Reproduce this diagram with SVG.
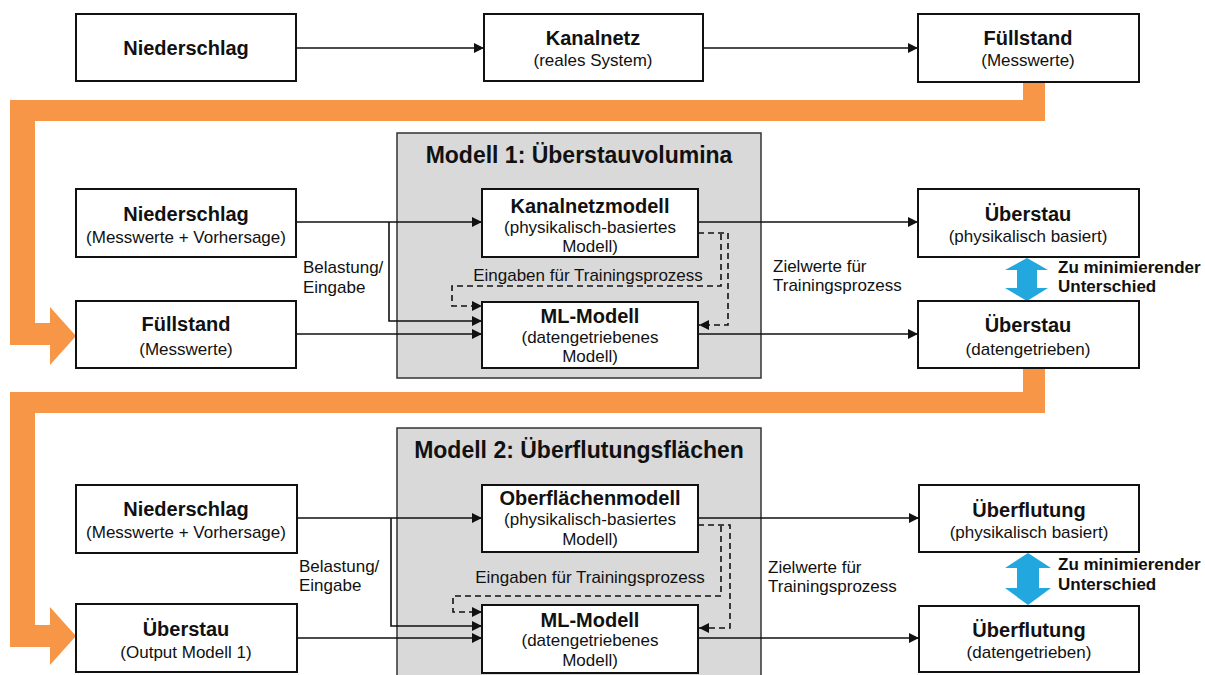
<svg xmlns="http://www.w3.org/2000/svg" width="1205" height="675" viewBox="0 0 1205 675">
<defs>
<style>
.box{fill:#fff;stroke:#111;stroke-width:2}
.grp{fill:#d9d9d9;stroke:#333;stroke-width:1.5}
.t{font-family:"Liberation Sans",Arial,sans-serif;font-weight:bold;font-size:20px;fill:#111;text-anchor:middle}
.s{font-family:"Liberation Sans",Arial,sans-serif;font-size:17px;fill:#111;text-anchor:middle}
.g{font-family:"Liberation Sans",Arial,sans-serif;font-weight:bold;font-size:23px;fill:#111;text-anchor:middle}
.l{font-family:"Liberation Sans",Arial,sans-serif;font-size:17px;fill:#111}
.lb{font-family:"Liberation Sans",Arial,sans-serif;font-size:17px;font-weight:bold;fill:#111}
.c{fill:none;stroke:#111;stroke-width:1.6}
.d{fill:none;stroke:#111;stroke-width:1.6;stroke-dasharray:6 4}
.band{fill:#f79646}
.blue{fill:#23a7df}
</style>
<marker id="ah" markerUnits="userSpaceOnUse" markerWidth="11" markerHeight="10" refX="10" refY="5" orient="auto">
<path d="M0,0 L10,5 L0,10 z" fill="#111"/>
</marker>
</defs>

<!-- orange bands -->
<g id="band1">
<path class="band" d="M1023,82 H1045 V121 H35 V323 H50 V307 L76,336 L50,365 V345 H10 V100 H1023 Z"/>
</g>
<g id="band2">
<path class="band" d="M1023,368 H1045 V413 H35 V625 H50 V607 L76,636 L50,665 V647 H10 V392 H1023 Z"/>
</g>

<!-- group boxes -->
<g id="modell1">
<rect class="grp" x="397" y="133" width="364" height="245"/>
<text class="g" x="579" y="163">Modell 1: Überstauvolumina</text>
</g>
<g id="modell2">
<rect class="grp" x="397" y="428" width="364" height="260"/>
<text class="g" x="579" y="458">Modell 2: Überflutungsflächen</text>
</g>

<!-- connectors -->
<g id="connectors">
<path class="c" d="M296,48 H484" marker-end="url(#ah)"/>
<path class="c" d="M703,48 H918" marker-end="url(#ah)"/>

<path class="c" d="M296,222 H482" marker-end="url(#ah)"/>
<path class="c" d="M389,222 V321 H482" marker-end="url(#ah)"/>
<path class="c" d="M296,334 H482" marker-end="url(#ah)"/>
<path class="c" d="M698,222 H918" marker-end="url(#ah)"/>
<path class="c" d="M698,334 H918" marker-end="url(#ah)"/>
<path class="d" d="M698,233 H728 V325 H699" marker-end="url(#ah)"/>
<path class="d" d="M721,234 V286 H452 V306 H482" marker-end="url(#ah)"/>

<path class="c" d="M297,518 H482" marker-end="url(#ah)"/>
<path class="c" d="M391,518 V626 H482" marker-end="url(#ah)"/>
<path class="c" d="M297,638 H482" marker-end="url(#ah)"/>
<path class="c" d="M698,518 H919" marker-end="url(#ah)"/>
<path class="c" d="M698,638 H919" marker-end="url(#ah)"/>
<path class="d" d="M698,525 H730 V628 H699" marker-end="url(#ah)"/>
<path class="d" d="M721,526 V596 H453 V612 H482" marker-end="url(#ah)"/>
</g>

<!-- connector labels -->
<g id="labels">
<text class="s" x="588" y="281">Eingaben für Trainingsprozess</text>
<text class="s" x="590" y="583">Eingaben für Trainingsprozess</text>
<text class="l" x="303" y="273">Belastung/</text>
<text class="l" x="303" y="293">Eingabe</text>
<text class="l" x="299" y="572">Belastung/</text>
<text class="l" x="299" y="591">Eingabe</text>
<text class="l" x="773" y="272">Zielwerte für</text>
<text class="l" x="773" y="291">Trainingsprozess</text>
<text class="l" x="768" y="573">Zielwerte für</text>
<text class="l" x="768" y="592">Trainingsprozess</text>
<text class="lb" x="1058" y="273">Zu minimierender</text>
<text class="lb" x="1058" y="292">Unterschied</text>
<text class="lb" x="1058" y="570">Zu minimierender</text>
<text class="lb" x="1058" y="590">Unterschied</text>
</g>

<!-- blue double arrows -->
<g id="diff1">
<path class="blue" d="M1027,258 L1048,270 H1037 V288 H1048 L1027,301 L1005,288 H1017 V270 H1005 Z"/>
</g>
<g id="diff2">
<path class="blue" d="M1028,553 L1051,568 H1039 V588 H1051 L1028,605 L1005,588 H1017 V568 H1005 Z"/>
</g>

<!-- top row -->
<g id="n-niederschlag-top">
<rect class="box" x="76" y="14" width="220" height="67"/>
<text class="t" x="186" y="55">Niederschlag</text>
</g>
<g id="n-kanalnetz">
<rect class="box" x="484" y="14" width="219" height="67"/>
<text class="t" x="593" y="45">Kanalnetz</text>
<text class="s" x="593" y="66">(reales System)</text>
</g>
<g id="n-fuellstand-top">
<rect class="box" x="918" y="14" width="221" height="68"/>
<text class="t" x="1028" y="45">Füllstand</text>
<text class="s" x="1028" y="66">(Messwerte)</text>
</g>

<!-- model 1 -->
<g id="n-niederschlag-1">
<rect class="box" x="76" y="189" width="220" height="68"/>
<text class="t" x="186" y="221">Niederschlag</text>
<text class="s" x="186" y="243">(Messwerte + Vorhersage)</text>
</g>
<g id="n-fuellstand-1">
<rect class="box" x="76" y="301" width="220" height="67"/>
<text class="t" x="186" y="331">Füllstand</text>
<text class="s" x="186" y="355">(Messwerte)</text>
</g>
<g id="n-kanalnetzmodell">
<rect class="box" x="482" y="189" width="216" height="68"/>
<text class="t" x="590" y="213">Kanalnetzmodell</text>
<text class="s" x="590" y="233">(physikalisch-basiertes</text>
<text class="s" x="590" y="252">Modell)</text>
</g>
<g id="n-mlmodell-1">
<rect class="box" x="482" y="302" width="216" height="66"/>
<text class="t" x="590" y="323">ML-Modell</text>
<text class="s" x="590" y="343">(datengetriebenes</text>
<text class="s" x="590" y="362">Modell)</text>
</g>
<g id="n-ueberstau-phys">
<rect class="box" x="918" y="189" width="221" height="68"/>
<text class="t" x="1028" y="221">Überstau</text>
<text class="s" x="1028" y="242">(physikalisch basiert)</text>
</g>
<g id="n-ueberstau-daten">
<rect class="box" x="918" y="301" width="221" height="67"/>
<text class="t" x="1028" y="332">Überstau</text>
<text class="s" x="1028" y="355">(datengetrieben)</text>
</g>

<!-- model 2 -->
<g id="n-niederschlag-2">
<rect class="box" x="76" y="485" width="221" height="68"/>
<text class="t" x="186" y="516">Niederschlag</text>
<text class="s" x="186" y="538">(Messwerte + Vorhersage)</text>
</g>
<g id="n-ueberstau-output">
<rect class="box" x="76" y="604" width="221" height="68"/>
<text class="t" x="186" y="636">Überstau</text>
<text class="s" x="186" y="658">(Output Modell 1)</text>
</g>
<g id="n-oberflaechenmodell">
<rect class="box" x="482" y="485" width="216" height="67"/>
<text class="t" x="590" y="505">Oberflächenmodell</text>
<text class="s" x="590" y="525">(physikalisch-basiertes</text>
<text class="s" x="590" y="545">Modell)</text>
</g>
<g id="n-mlmodell-2">
<rect class="box" x="482" y="605" width="216" height="68"/>
<text class="t" x="590" y="627">ML-Modell</text>
<text class="s" x="590" y="646">(datengetriebenes</text>
<text class="s" x="590" y="666">Modell)</text>
</g>
<g id="n-ueberflutung-phys">
<rect class="box" x="919" y="485" width="220" height="67"/>
<text class="t" x="1029" y="517">Überflutung</text>
<text class="s" x="1029" y="538">(physikalisch basiert)</text>
</g>
<g id="n-ueberflutung-daten">
<rect class="box" x="919" y="606" width="220" height="66"/>
<text class="t" x="1029" y="637">Überflutung</text>
<text class="s" x="1029" y="658">(datengetrieben)</text>
</g>
</svg>
